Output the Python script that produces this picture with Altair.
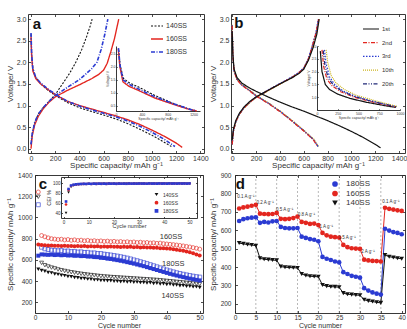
import altair as alt
import pandas as pd

W, H = 407, 329
FONT = "Liberation Sans"
TXT = "#333333"
AX = "#222222"
RED = "#e3261f"
BLUE = "#2b3bd2"
BLACK = "#111111"
OLIVE = "#cdb41c"
NAVY = "#222a78"

# ---------------- panel a : voltage profiles ----------------
A_SERIES = ["140SS", "160SS", "180SS"]
a140_dis_cap = [0, 5, 15, 40, 80, 150, 220, 300, 400, 500, 600, 700, 800, 900, 1000, 1100, 1160]
a140_dis_v = [2.65, 2.2, 1.85, 1.65, 1.5, 1.33, 1.2, 1.07, 0.95, 0.86, 0.78, 0.69, 0.58, 0.45, 0.31, 0.15, 0.05]
a160_dis_cap = [0, 5, 15, 40, 80, 150, 220, 300, 400, 500, 600, 700, 800, 900, 1000, 1100, 1200, 1250]
a160_dis_v = [2.6, 2.15, 1.8, 1.62, 1.5, 1.35, 1.22, 1.1, 1.0, 0.92, 0.84, 0.76, 0.67, 0.56, 0.43, 0.29, 0.13, 0.03]
a180_dis_cap = [0, 5, 15, 40, 80, 150, 220, 300, 400, 500, 600, 700, 800, 900, 1000, 1100, 1190]
a180_dis_v = [2.68, 2.2, 1.85, 1.65, 1.52, 1.36, 1.23, 1.1, 0.99, 0.9, 0.82, 0.74, 0.64, 0.52, 0.38, 0.22, 0.05]
a140_chg_cap = [0, 10, 30, 60, 100, 150, 200, 260, 320, 370, 420, 460, 490, 505]
a140_chg_v = [0.1, 0.35, 0.6, 0.8, 0.95, 1.1, 1.25, 1.5, 1.75, 2.0, 2.3, 2.6, 2.85, 3.0]
a160_chg_cap = [0, 10, 30, 60, 100, 150, 200, 300, 400, 500, 560, 600, 630, 660, 690, 725]
a160_chg_v = [0.0, 0.3, 0.55, 0.75, 0.92, 1.08, 1.2, 1.35, 1.48, 1.62, 1.72, 1.82, 1.98, 2.25, 2.55, 3.0]
a180_chg_cap = [0, 10, 30, 60, 100, 150, 200, 300, 400, 450, 500, 545, 580, 610, 635]
a180_chg_v = [0.1, 0.35, 0.6, 0.8, 0.95, 1.1, 1.23, 1.42, 1.6, 1.72, 1.85, 2.0, 2.3, 2.65, 3.0]
# inset a
ia140_cap = [40, 65, 115, 210, 350, 600, 860, 1100, 1200]
ia140_v = [2.65, 2.05, 1.55, 1.38, 1.22, 0.9, 0.62, 0.4, 0.32]
ia160_cap = [35, 60, 108, 200, 340, 600, 870, 1110, 1250]
ia160_v = [2.7, 2.0, 1.42, 1.25, 1.1, 0.8, 0.57, 0.38, 0.3]
ia180_cap = [38, 62, 110, 205, 345, 600, 865, 1110, 1230]
ia180_v = [2.72, 2.05, 1.5, 1.32, 1.15, 0.85, 0.6, 0.39, 0.31]

# ---------------- panel b : cycles of 160SS ----------------
B_SERIES = ["1st", "2nd", "3rd", "10th", "20th"]
b1_dis_cap = [0, 5, 15, 40, 80, 150, 200, 300, 400, 500, 600, 700, 800, 900, 1000, 1100, 1200, 1245]
b1_dis_v = [2.72, 2.2, 1.85, 1.65, 1.52, 1.4, 1.33, 1.2, 1.08, 0.97, 0.87, 0.76, 0.65, 0.53, 0.4, 0.26, 0.1, 0.02]
b2_dis_cap = [0, 5, 15, 40, 80, 150, 200, 300, 400, 500, 600, 680, 716]
b2_dis_v = [2.85, 2.2, 1.8, 1.6, 1.47, 1.33, 1.22, 1.05, 0.86, 0.64, 0.41, 0.21, 0.05]
b3_dis_cap = [0, 5, 15, 40, 80, 150, 200, 300, 400, 500, 600, 682, 720]
b3_dis_v = [2.86, 2.22, 1.81, 1.61, 1.48, 1.34, 1.23, 1.06, 0.87, 0.65, 0.42, 0.21, 0.05]
b10_dis_cap = [0, 5, 15, 40, 80, 150, 200, 300, 400, 500, 600, 685, 724]
b10_dis_v = [2.87, 2.25, 1.83, 1.62, 1.49, 1.35, 1.24, 1.07, 0.88, 0.66, 0.43, 0.22, 0.05]
b20_dis_cap = [0, 5, 15, 40, 80, 150, 200, 300, 400, 500, 600, 683, 721]
b20_dis_v = [2.86, 2.23, 1.82, 1.61, 1.48, 1.34, 1.23, 1.06, 0.87, 0.65, 0.42, 0.21, 0.05]
b1_chg_cap = [0, 10, 30, 60, 100, 150, 200, 300, 400, 500, 560, 600, 640, 680, 710, 730]
b1_chg_v = [0.2, 0.45, 0.65, 0.82, 0.97, 1.1, 1.2, 1.35, 1.5, 1.64, 1.74, 1.84, 2.05, 2.35, 2.65, 3.0]
b2_chg_cap = [0, 10, 30, 60, 100, 150, 200, 300, 400, 500, 560, 600, 640, 675, 705, 725]
b2_chg_v = [0.1, 0.4, 0.62, 0.8, 0.95, 1.08, 1.19, 1.35, 1.5, 1.65, 1.76, 1.86, 2.08, 2.4, 2.7, 3.0]
b3_chg_cap = [0, 10, 30, 60, 100, 150, 200, 300, 400, 500, 560, 600, 638, 673, 703, 722]
b3_chg_v = [0.1, 0.4, 0.62, 0.8, 0.95, 1.08, 1.19, 1.36, 1.51, 1.66, 1.77, 1.87, 2.08, 2.4, 2.7, 3.0]
b10_chg_cap = [0, 10, 30, 60, 100, 150, 200, 300, 400, 500, 560, 600, 642, 678, 708, 728]
b10_chg_v = [0.1, 0.4, 0.62, 0.8, 0.94, 1.07, 1.18, 1.34, 1.49, 1.64, 1.75, 1.85, 2.07, 2.4, 2.7, 3.0]
b20_chg_cap = [0, 10, 30, 60, 100, 150, 200, 300, 400, 500, 560, 600, 640, 676, 706, 726]
b20_chg_v = [0.1, 0.4, 0.62, 0.8, 0.95, 1.08, 1.19, 1.35, 1.5, 1.65, 1.76, 1.86, 2.08, 2.4, 2.7, 3.0]
# inset b
ib1_cap = [40, 60, 100, 150, 250, 400, 600, 800, 950]
ib1_v = [2.8, 2.0, 1.5, 1.3, 1.12, 0.95, 0.8, 0.68, 0.6]
ib2_cap = [60, 80, 120, 180, 280, 430, 620, 800, 950]
ib2_v = [2.85, 2.2, 1.7, 1.45, 1.22, 1.02, 0.85, 0.72, 0.62]
ib3_cap = [90, 110, 150, 210, 310, 450, 640, 820, 960]
ib3_v = [2.85, 2.3, 1.8, 1.5, 1.25, 1.05, 0.87, 0.73, 0.63]
ib10_cap = [110, 130, 170, 230, 330, 470, 660, 830, 965]
ib10_v = [2.85, 2.35, 1.85, 1.55, 1.3, 1.08, 0.9, 0.75, 0.64]
ib20_cap = [75, 95, 135, 195, 295, 440, 630, 810, 955]
ib20_v = [2.82, 2.25, 1.75, 1.48, 1.24, 1.04, 0.86, 0.73, 0.62]

# ---------------- panel c : cycling ----------------
C_SERIES = ["140SS", "160SS", "180SS"]
c_cycles = list(range(1, 51))
c140_fill = [512, 500, 494, 482, 478, 468, 464, 455, 452, 444,
             441, 434, 432, 426, 424, 419, 418, 412, 412, 407,
             407, 403, 403, 399, 400, 395, 397, 392, 394, 389,
             391, 386, 388, 382, 384, 378, 380, 374, 375, 369,
             370, 363, 364, 357, 358, 351, 352, 346, 346, 341]
c140_open = [1195, 572, 550, 538, 528, 520, 510, 503, 496, 490,
             484, 479, 474, 469, 465, 461, 457, 454, 450, 447,
             444, 442, 439, 437, 435, 433, 431, 429, 427, 425,
             423, 421, 419, 417, 415, 413, 411, 408, 405, 402,
             399, 396, 393, 390, 387, 384, 381, 378, 375, 372]
c160_fill = [745, 740, 738, 736, 735, 733, 734, 731, 733, 730,
             732, 729, 731, 728, 730, 727, 729, 726, 728, 725,
             727, 724, 726, 723, 725, 722, 724, 721, 723, 720,
             721, 718, 719, 716, 717, 714, 714, 711, 710, 707,
             705, 701, 697, 692, 687, 680, 672, 663, 652, 642]
c160_open = [1240, 830, 818, 808, 800, 796, 792, 795, 788, 792,
             785, 789, 783, 786, 780, 784, 778, 781, 776, 779,
             774, 777, 772, 775, 770, 773, 768, 771, 766, 769,
             764, 767, 762, 764, 759, 761, 756, 758, 753, 750,
             747, 744, 740, 736, 732, 727, 722, 716, 710, 702]
c180_fill = [640, 652, 650, 648, 650, 646, 648, 644, 646, 642,
             643, 639, 640, 636, 637, 632, 632, 627, 626, 620,
             618, 612, 609, 603, 598, 592, 586, 579, 572, 565,
             557, 549, 541, 532, 523, 514, 505, 496, 487, 478,
             469, 461, 453, 445, 438, 431, 424, 418, 412, 406]
c180_open = [1120, 720, 705, 698, 692, 690, 686, 688, 682, 684,
             678, 680, 674, 676, 670, 671, 665, 666, 660, 660,
             654, 650, 646, 641, 636, 630, 624, 617, 609, 600,
             592, 583, 574, 565, 555, 545, 535, 525, 515, 505,
             496, 487, 479, 472, 465, 459, 453, 447, 442, 438]
# inset c : coulombic efficiency
ce140 = [40, 81, 92, 95, 96.2, 97, 97.4, 97.9, 97.6, 98.1,
         97.9, 98.3, 98.0, 98.4, 98.1, 98.5, 98.2, 98.6, 98.3, 98.5,
         98.2, 98.6, 98.4, 98.7, 98.5, 98.6, 98.3, 98.7, 98.5, 98.8,
         98.6, 98.7, 98.4, 98.8, 98.6, 98.9, 98.7, 98.8, 98.5, 98.9,
         98.7, 98.8, 98.6, 98.9, 98.7, 98.9, 98.8, 99.0, 98.8, 98.9]
ce160 = [57, 86, 94, 96, 97, 97.6, 98, 98.2, 97.9, 98.4,
         98.1, 98.5, 98.2, 98.6, 98.3, 98.5, 98.2, 98.7, 98.4, 98.6,
         98.3, 98.7, 98.5, 98.6, 98.4, 98.8, 98.5, 98.7, 98.4, 98.8,
         98.6, 98.7, 98.5, 98.9, 98.6, 98.8, 98.5, 98.9, 98.7, 98.8,
         98.6, 98.9, 98.7, 98.8, 98.6, 98.9, 98.7, 98.8, 98.6, 98.9]
ce180 = [63, 88, 95, 96.6, 97.3, 97.8, 98.1, 98.4, 98.2, 98.6,
         98.3, 98.7, 98.4, 98.8, 98.5, 98.7, 98.4, 98.9, 98.6, 98.8,
         98.5, 98.9, 98.6, 98.8, 98.5, 99.0, 98.7, 98.9, 98.6, 99.0,
         98.8, 98.9, 98.6, 99.1, 98.8, 98.9, 98.7, 99.1, 98.8, 99.0,
         98.7, 99.1, 98.9, 99.0, 98.8, 99.1, 98.9, 99.0, 98.8, 99.1]
c_labels = ["160SS", "180SS", "140SS"]
c_label_x = [41.3, 42, 41.8]
c_label_y = [816, 561, 262]

# ---------------- panel d : rate capability ----------------
D_SERIES = ["180SS", "160SS", "140SS"]
d_cycles = list(range(1, 41))
d180 = [650, 660, 665, 668, 670, 640, 645, 642, 648, 650, 618, 612, 610, 610, 612, 565, 558, 552, 548, 540,
        455, 445, 438, 430, 425, 372, 362, 352, 347, 342, 285, 272, 262, 255, 250, 608, 598, 590, 585, 578]
d160 = [718, 724, 728, 733, 738, 690, 688, 687, 688, 694, 662, 660, 662, 666, 674, 645, 640, 634, 636, 628,
        585, 572, 565, 562, 560, 520, 508, 502, 500, 498, 440, 436, 433, 432, 430, 722, 716, 712, 708, 705]
d140 = [530, 526, 522, 520, 516, 447, 442, 440, 438, 436, 402, 399, 397, 396, 395, 362, 354, 350, 348, 347,
        302, 296, 293, 292, 290, 258, 252, 250, 248, 246, 222, 216, 212, 208, 205, 465, 456, 452, 448, 445]
d_sep = [5, 10, 15, 20, 25, 30, 35]
d_rates = ["0.1 A g⁻¹", "0.2 A g⁻¹", "0.5 A g⁻¹", "0.8 A g⁻¹", "1 A g⁻¹", "1.5 A g⁻¹", "2 A g⁻¹", "0.1 A g⁻¹"]
d_rate_x = [2.6, 7.2, 11.9, 17.1, 21.9, 26.9, 31.9, 37.4]
d_rate_y = [782, 750, 712, 684, 620, 560, 484, 755]

CAP_TITLE = "Specific capacity/ mAh g⁻¹"

# ---------------- geometry (pixel ranges of each plot area) ----------------
PA = dict(xd=[-25, 1430], xr=[28, 204], yd=[-0.1, 3.12], yr=[153, 14])
PB = dict(xd=[-10, 1450], xr=[231, 405], yd=[-0.1, 3.12], yr=[153, 14])
PC = dict(xd=[0, 51], xr=[35, 203], yd=[100, 1400], yr=[313, 175])
PD = dict(xd=[0, 40.8], xr=[235, 405], yd=[150, 900], yr=[313, 175])
IA = dict(xd=[0, 1300], xr=[116, 200], yd=[0.3, 2.8], yr=[111, 46])
IB = dict(xd=[0, 1000], xr=[317, 400], yd=[0.5, 3.0], yr=[110, 46])
IC = dict(xd=[-1, 53], xr=[61, 197], yd=[30, 112], yr=[218, 177])


def sc(g, ax):
    if ax == "x":
        return alt.Scale(domain=g["xd"], range=g["xr"], nice=False, zero=False)
    return alt.Scale(domain=g["yd"], range=g["yr"], nice=False, zero=False)


def axis_props(fs_lab, fs_tit):
    return dict(labelFont=FONT, titleFont=FONT, labelFontSize=fs_lab, titleFontSize=fs_tit,
                labelColor=TXT, titleColor=TXT, titleFontWeight="normal",
                domainColor=AX, tickColor=AX, domainWidth=0.9, tickWidth=0.8,
                grid=False, labelFlush=False, labelOverlap=False, minExtent=0)


def frame_layers(g, xticks, yticks, xfmt, yfmt, xtitle, ytitle, fs_lab=7, fs_tit=8,
                 tick=2.5, xlabpad=1, ylabpad=2, xtitpad=0, ytitpad=2, full=True, fs_xtit=None):
    x0, x1 = g["xr"]
    yb, yt = g["yr"]
    df = pd.DataFrame({"x": g["xd"], "y": g["yd"]})
    xs, ys = sc(g, "x"), sc(g, "y")
    p = axis_props(fs_lab, fs_tit)
    px = axis_props(fs_lab, fs_xtit if fs_xtit else fs_tit)
    base = alt.Chart(df).mark_point(opacity=0)
    out = [base.encode(
        x=alt.X("x:Q", scale=xs, axis=alt.Axis(orient="bottom", offset=yb - H, values=xticks, format=xfmt,
                                               title=xtitle, tickSize=0, labelPadding=xlabpad,
                                               titlePadding=xtitpad, **px)),
        y=alt.Y("y:Q", scale=ys, axis=alt.Axis(orient="left", offset=-x0, values=yticks, format=yfmt,
                                               title=ytitle, tickSize=0, labelPadding=ylabpad,
                                               titlePadding=ytitpad, **p)))]
    out.append(base.encode(
        x=alt.X("x:Q", scale=xs, axis=alt.Axis(orient="top", offset=-yb, values=xticks, labels=False,
                                               domain=False, title=None, tickSize=tick, **p)),
        y=alt.Y("y:Q", scale=ys, axis=alt.Axis(orient="right", offset=x0 - W, values=yticks, labels=False,
                                               domain=False, title=None, tickSize=tick, **p))))
    if full:
        out.append(base.encode(
            x=alt.X("x:Q", scale=xs, axis=alt.Axis(orient="bottom", offset=yt - H, values=xticks, labels=False,
                                                   title=None, tickSize=tick, **p)),
            y=alt.Y("y:Q", scale=ys, axis=alt.Axis(orient="left", offset=-x1, values=yticks, labels=False,
                                                   title=None, tickSize=tick, **p))))
    return out


def curves_df(items):
    rows = []
    for series, seg, xs, ys in items:
        for i, (xv, yv) in enumerate(zip(xs, ys)):
            rows.append({"x": xv, "y": yv, "series": series, "seg": seg, "ord": i})
    return pd.DataFrame(rows)


def series_df(xs, items):
    rows = []
    for series, vals in items:
        for xv, yv in zip(xs, vals):
            rows.append({"x": xv, "y": yv, "series": series})
    return pd.DataFrame(rows)


def line_legend(x, y, fs, rowpad, symsize):
    return alt.Legend(orient="none", legendX=x, legendY=y, title=None, labelFont=FONT, labelFontSize=fs,
                      labelColor=TXT, rowPadding=rowpad, padding=0, labelOffset=2, symbolType="stroke",
                      symbolSize=symsize, symbolStrokeWidth=1.3)


def point_legend(x, y, fs, rowpad, symsize, offset):
    return alt.Legend(orient="none", legendX=x, legendY=y, title=None, labelFont=FONT, labelFontSize=fs,
                      labelColor=TXT, rowPadding=rowpad, padding=0, labelOffset=offset, symbolSize=symsize,
                      symbolStrokeWidth=0)


def lines_layer(g, df, domain, colors, dashes, widths, legend):
    return alt.Chart(df).mark_line(clip=False).encode(
        x=alt.X("x:Q", scale=sc(g, "x"), axis=None),
        y=alt.Y("y:Q", scale=sc(g, "y"), axis=None),
        color=alt.Color("series:N", scale=alt.Scale(domain=domain, range=colors), legend=legend),
        strokeDash=alt.StrokeDash("series:N", scale=alt.Scale(domain=domain, range=dashes), legend=legend),
        strokeWidth=alt.StrokeWidth("series:N", scale=alt.Scale(domain=domain, range=widths), legend=None),
        detail="seg:N",
        order="ord:Q",
    )


def text_layer(g, df, size, bold=False, color=TXT):
    return alt.Chart(df).mark_text(font=FONT, fontSize=size, fontWeight="bold" if bold else "normal",
                                   color=color, align="center", baseline="middle").encode(
        x=alt.X("x:Q", scale=sc(g, "x"), axis=None),
        y=alt.Y("y:Q", scale=sc(g, "y"), axis=None),
        text="t:N",
    )


layers = []

# ---------- panel a ----------
layers += frame_layers(PA, [0, 200, 400, 600, 800, 1000, 1200, 1400], [0, 0.5, 1.0, 1.5, 2.0, 2.5, 3.0],
                       "d", ".1f", CAP_TITLE, "Voltage/ V")
a_df = curves_df([
    ("140SS", "d", a140_dis_cap, a140_dis_v), ("140SS", "c", a140_chg_cap, a140_chg_v),
    ("160SS", "d", a160_dis_cap, a160_dis_v), ("160SS", "c", a160_chg_cap, a160_chg_v),
    ("180SS", "d", a180_dis_cap, a180_dis_v), ("180SS", "c", a180_chg_cap, a180_chg_v),
])
A_COL = [BLACK, RED, BLUE]
A_DASH = [[2, 1.5], [1, 0], [4, 1.5, 1, 1.5]]
A_W = [1.1, 1.6, 1.2]
layers.append(lines_layer(PA, a_df, A_SERIES, A_COL, A_DASH, A_W, line_legend(150, 19, 7, 3, 144)))
layers += frame_layers(IA, [0, 400, 800, 1200], [0.5, 1.0, 1.5, 2.0, 2.5], "d", ".1f",
                       CAP_TITLE, "Voltage/ V", fs_lab=3.5, fs_tit=3.5, tick=1.2, xlabpad=1, ylabpad=1,
                       xtitpad=1, ytitpad=1, full=False)
ia_df = curves_df([("140SS", "d", ia140_cap, ia140_v), ("160SS", "d", ia160_cap, ia160_v),
                   ("180SS", "d", ia180_cap, ia180_v)])
layers.append(lines_layer(IA, ia_df, A_SERIES, A_COL, A_DASH, A_W, None))
layers.append(text_layer(PA, pd.DataFrame({"x": [49], "y": [2.89], "t": ["a"]}), 15, True, BLACK))

# ---------- panel b ----------
layers += frame_layers(PB, [0, 200, 400, 600, 800, 1000, 1200, 1400], [0, 0.5, 1.0, 1.5, 2.0, 2.5, 3.0],
                       "d", ".1f", CAP_TITLE, "Voltage/ V")
b_df = curves_df([
    ("20th", "d", b20_dis_cap, b20_dis_v), ("20th", "c", b20_chg_cap, b20_chg_v),
    ("10th", "d", b10_dis_cap, b10_dis_v), ("10th", "c", b10_chg_cap, b10_chg_v),
    ("3rd", "d", b3_dis_cap, b3_dis_v), ("3rd", "c", b3_chg_cap, b3_chg_v),
    ("2nd", "d", b2_dis_cap, b2_dis_v), ("2nd", "c", b2_chg_cap, b2_chg_v),
    ("1st", "d", b1_dis_cap, b1_dis_v), ("1st", "c", b1_chg_cap, b1_chg_v),
])
B_COL = [BLACK, RED, BLUE, OLIVE, NAVY]
B_DASH = [[1, 0], [4, 1.5, 1, 1.5], [1.5, 1.5], [1, 1], [4, 1.5, 1, 1.5, 1, 1.5]]
B_W = [1.2, 1.2, 1.2, 1.2, 1.2]
layers.append(lines_layer(PB, b_df, B_SERIES, B_COL, B_DASH, B_W, line_legend(362, 20, 6, 1.7, 256)))
layers += frame_layers(IB, [0, 250, 500, 750, 1000], [1.0, 1.5, 2.0, 2.5, 3.0], "d", ".1f",
                       CAP_TITLE, "Voltage/ V", fs_lab=3.5, fs_tit=3.5, tick=1.2, xlabpad=1, ylabpad=1,
                       xtitpad=1, ytitpad=1, full=False)
ib_df = curves_df([("1st", "d", ib1_cap, ib1_v), ("2nd", "d", ib2_cap, ib2_v), ("3rd", "d", ib3_cap, ib3_v),
                   ("10th", "d", ib10_cap, ib10_v), ("20th", "d", ib20_cap, ib20_v)])
layers.append(lines_layer(IB, ib_df, B_SERIES, B_COL, B_DASH, B_W, None))
layers.append(text_layer(PB, pd.DataFrame({"x": [56], "y": [2.9], "t": ["b"]}), 15, True, BLACK))

# ---------- panel c ----------
layers += frame_layers(PC, [0, 10, 20, 30, 40, 50], [200, 400, 600, 800, 1000, 1200, 1400], "d", "d",
                       "Cycle number", CAP_TITLE, fs_lab=6.5, xlabpad=1.5, ylabpad=3, ytitpad=3, fs_xtit=7)
C_COL = [BLACK, RED, BLUE]
C_SHAPE = ["triangle-down", "circle", "square"]
c_open = series_df(c_cycles, [("140SS", c140_open), ("160SS", c160_open), ("180SS", c180_open)])
c_fill = series_df(c_cycles, [("140SS", c140_fill), ("160SS", c160_fill), ("180SS", c180_fill)])
layers.append(alt.Chart(c_open).mark_point(filled=False, size=16, strokeWidth=0.9, clip=False).encode(
    x=alt.X("x:Q", scale=sc(PC, "x"), axis=None),
    y=alt.Y("y:Q", scale=sc(PC, "y"), axis=None),
    color=alt.Color("series:N", scale=alt.Scale(domain=C_SERIES, range=C_COL), legend=None),
    shape=alt.Shape("series:N", scale=alt.Scale(domain=C_SERIES, range=C_SHAPE), legend=None),
))
layers.append(alt.Chart(c_fill).mark_point(filled=True, size=16, opacity=1, clip=False).encode(
    x=alt.X("x:Q", scale=sc(PC, "x"), axis=None),
    y=alt.Y("y:Q", scale=sc(PC, "y"), axis=None),
    color=alt.Color("series:N", scale=alt.Scale(domain=C_SERIES, range=C_COL), legend=None),
    shape=alt.Shape("series:N", scale=alt.Scale(domain=C_SERIES, range=C_SHAPE), legend=None),
))
layers.append(text_layer(PC, pd.DataFrame({"x": c_label_x, "y": c_label_y, "t": c_labels}), 7.5))
# inset c
layers += frame_layers(IC, [0, 10, 20, 30, 40, 50], [40, 60, 80, 100], "d", "d",
                       "Cycle number", "CE/ %", fs_lab=4.5, fs_tit=5.5, tick=1.5, xlabpad=1, ylabpad=1,
                       xtitpad=0, ytitpad=1)
ce_df = series_df(c_cycles, [("140SS", ce140), ("160SS", ce160), ("180SS", ce180)])
layers.append(alt.Chart(ce_df).mark_point(filled=True, size=7, opacity=1, clip=False).encode(
    x=alt.X("x:Q", scale=sc(IC, "x"), axis=None),
    y=alt.Y("y:Q", scale=sc(IC, "y"), axis=None),
    color=alt.Color("series:N", scale=alt.Scale(domain=C_SERIES, range=C_COL),
                    legend=point_legend(154, 192, 5, 2.2, 14, 4)),
    shape=alt.Shape("series:N", scale=alt.Scale(domain=C_SERIES, range=C_SHAPE),
                    legend=point_legend(154, 192, 5, 2.2, 14, 4)),
))
layers.append(text_layer(PC, pd.DataFrame({"x": [2.4], "y": [1315], "t": ["c"]}), 15, True, BLACK))

# ---------- panel d ----------
layers += frame_layers(PD, [0, 5, 10, 15, 20, 25, 30, 35, 40], [200, 300, 400, 500, 600, 700, 800, 900],
                       "d", "d", "Cycle number", CAP_TITLE, fs_lab=6.5, xlabpad=1.5, ylabpad=4, ytitpad=3,
                       fs_xtit=7)
sep_df = pd.DataFrame({"x": d_sep, "y0": [PD["yd"][0]] * len(d_sep), "y1": [PD["yd"][1]] * len(d_sep)})
layers.append(alt.Chart(sep_df).mark_rule(color="#9a9a9a", strokeWidth=0.7, strokeDash=[2, 2]).encode(
    x=alt.X("x:Q", scale=sc(PD, "x"), axis=None),
    y=alt.Y("y0:Q", scale=sc(PD, "y"), axis=None),
    y2="y1:Q",
))
D_COL = [BLUE, RED, BLACK]
D_SHAPE = ["circle", "circle", "triangle-down"]
d_df = series_df(d_cycles, [("180SS", d180), ("160SS", d160), ("140SS", d140)])
layers.append(alt.Chart(d_df).mark_line(strokeWidth=1, clip=False).encode(
    x=alt.X("x:Q", scale=sc(PD, "x"), axis=None),
    y=alt.Y("y:Q", scale=sc(PD, "y"), axis=None),
    color=alt.Color("series:N", scale=alt.Scale(domain=D_SERIES, range=D_COL), legend=None),
))
layers.append(alt.Chart(d_df).mark_point(filled=True, size=22, opacity=1, clip=False).encode(
    x=alt.X("x:Q", scale=sc(PD, "x"), axis=None),
    y=alt.Y("y:Q", scale=sc(PD, "y"), axis=None),
    color=alt.Color("series:N", scale=alt.Scale(domain=D_SERIES, range=D_COL),
                    legend=point_legend(331, 180, 8, 1.5, 32, 7)),
    shape=alt.Shape("series:N", scale=alt.Scale(domain=D_SERIES, range=D_SHAPE),
                    legend=point_legend(331, 180, 8, 1.5, 32, 7)),
))
layers.append(text_layer(PD, pd.DataFrame({"x": d_rate_x, "y": d_rate_y, "t": d_rates}), 4.5))
layers.append(text_layer(PD, pd.DataFrame({"x": [1.3], "y": [851], "t": ["d"]}), 15, True, BLACK))

chart = alt.layer(*layers).resolve_scale(
    x="independent", y="independent", color="independent", strokeDash="independent",
    strokeWidth="independent", shape="independent",
).properties(
    width=W, height=H, autosize=alt.AutoSizeParams(type="none"), padding=0, background="white",
).configure_view(stroke="transparent")

chart.save("out.html", embed_options={"renderer": "svg", "actions": False})
